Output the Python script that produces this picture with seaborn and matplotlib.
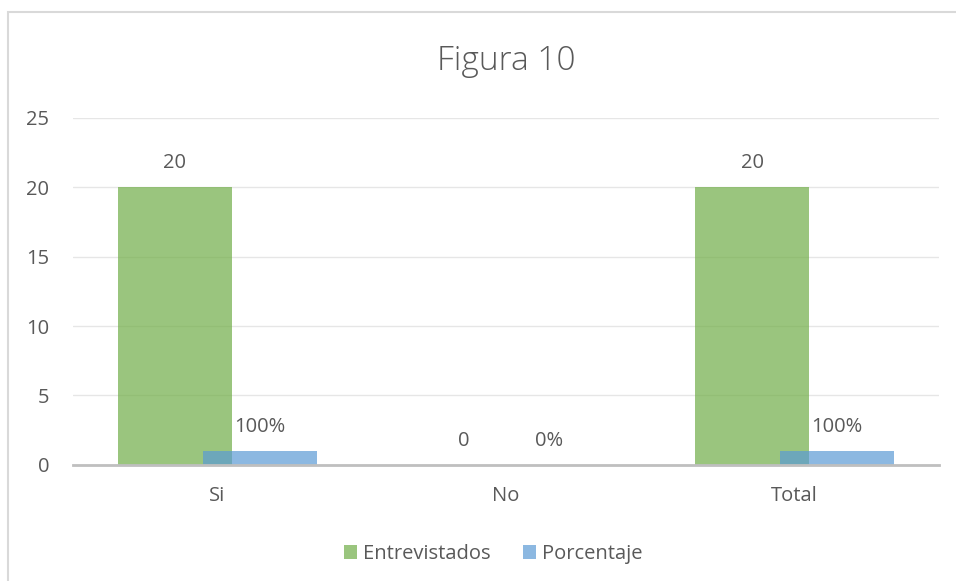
import pandas as pd
import seaborn as sns
import matplotlib.pyplot as plt
from matplotlib.patches import Rectangle

# Chart data
categories = ["Si", "No", "Total"]
entrevistados = [20, 0, 20]
porcentaje = [1, 0, 1]          # 100% shown as 1 on the same axis
porcentaje_labels = ["100%", "0%", "100%"]
series = ["Entrevistados", "Porcentaje"]

df = pd.DataFrame({
    "categoria": categories * 2,
    "serie": [series[0]] * 3 + [series[1]] * 3,
    "valor": entrevistados + porcentaje,
})

sns.set_style("white")
plt.rcParams["font.family"] = ["Open Sans", "DejaVu Sans"]
text_color = "#595959"
fs = 14.5

fig = plt.figure(figsize=(9.56, 5.81), dpi=100)
ax = fig.add_axes([0.0764, 0.1997, 0.9058, 0.5979])

sns.barplot(data=df, x="categoria", y="valor", hue="serie", order=categories,
            hue_order=series, palette=["#70AD47", "#5B9BD5"], saturation=1,
            alpha=0.7, linewidth=0, width=0.59, gap=-0.34, dodge=True, ax=ax)

ax.set_ylim(0, 25)
ax.set_yticks([0, 5, 10, 15, 20, 25])
ax.set_xlabel("")
ax.set_ylabel("")
ax.grid(axis="y", color="#E6E6E6", linewidth=1)
ax.set_axisbelow(True)
for side in ["top", "left", "right"]:
    ax.spines[side].set_visible(False)
ax.spines["bottom"].set_color("#BFBFBF")
ax.spines["bottom"].set_linewidth(2)
ax.tick_params(axis="y", length=0, pad=17, labelsize=fs, labelcolor=text_color)
ax.tick_params(axis="x", length=0, pad=15, labelsize=fs, labelcolor=text_color)

# data labels
ax.bar_label(ax.containers[0], labels=[str(v) for v in entrevistados],
             padding=10, fontsize=fs, color=text_color)
ax.bar_label(ax.containers[1], labels=porcentaje_labels,
             padding=10, fontsize=fs, color=text_color)

ax.set_title("Figura 10", fontsize=24, fontweight="light", color=text_color, pad=34)

ax.legend(loc="upper center", bbox_to_anchor=(0.485, -0.175), ncol=2, frameon=False,
          fontsize=fs, labelcolor=text_color, handlelength=0.65, handleheight=0.65,
          handletextpad=0.3, columnspacing=1.6)

# chart area border
fig.patches.append(Rectangle((0.0084, -0.05), 1.2, 1.029, transform=fig.transFigure,
                             fill=False, edgecolor="#D9D9D9", linewidth=1.5))

fig.savefig("out.png", dpi=100)
